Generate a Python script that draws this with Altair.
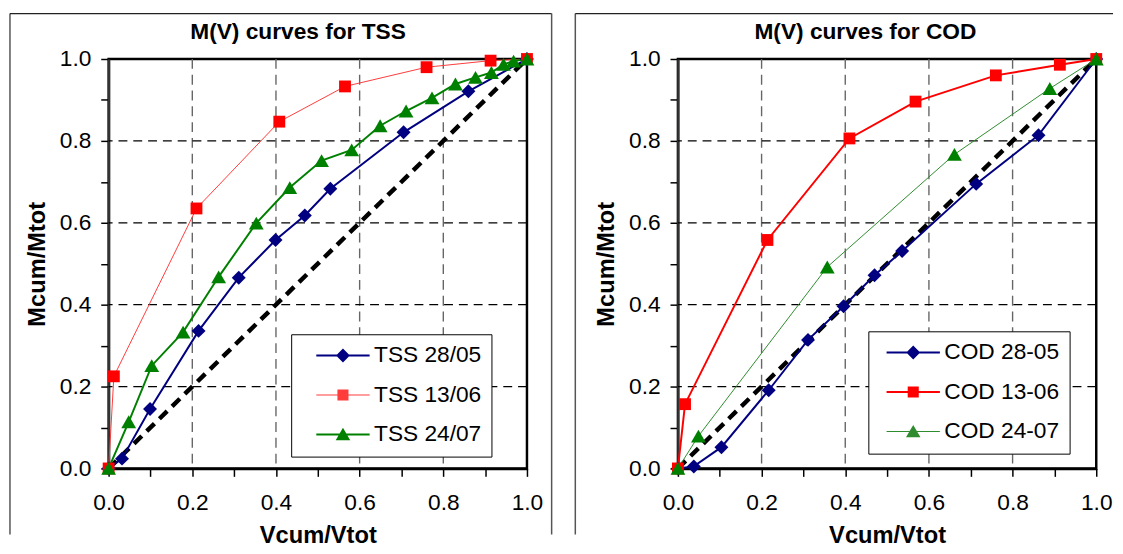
import altair as alt
import pandas as pd

# ---------------- data ----------------
tick_values = [0.0, 0.1, 0.2, 0.3, 0.4, 0.5, 0.6, 0.7, 0.8, 0.9, 1.0]
grid_values = [0.2, 0.4, 0.6, 0.8]
diag_v = [0.0, 1.0]
diag_m = [0.0, 1.0]

tss_names = ["TSS 28/05", "TSS 13/06", "TSS 24/07"]
tss_v = [
    [0, 0.032, 0.099, 0.215, 0.311, 0.399, 0.469, 0.53, 0.705, 0.86, 1.0],
    [0, 0.0125, 0.21, 0.408, 0.565, 0.76, 0.913, 1.0],
    [0, 0.048, 0.103, 0.178, 0.263, 0.353, 0.433, 0.509, 0.581, 0.649, 0.711,
     0.773, 0.829, 0.877, 0.915, 0.944, 0.968, 1.0],
]
tss_m = [
    [0, 0.024, 0.145, 0.336, 0.466, 0.558, 0.618, 0.683, 0.821, 0.921, 1.0],
    [0, 0.225, 0.635, 0.847, 0.933, 0.98, 0.996, 1.0],
    [0, 0.114, 0.251, 0.333, 0.468, 0.599, 0.686, 0.752, 0.778, 0.837, 0.873,
     0.905, 0.939, 0.955, 0.967, 0.987, 0.995, 1.0],
]

cod_names = ["COD 28-05", "COD 13-06", "COD 24-07"]
cod_v = [
    [0, 0.038, 0.104, 0.217, 0.311, 0.396, 0.47, 0.536, 0.713, 0.862, 1.0],
    [0, 0.017, 0.214, 0.41, 0.568, 0.76, 0.913, 1.0],
    [0, 0.049, 0.357, 0.661, 0.889, 1.0],
]
cod_m = [
    [0, 0.005, 0.052, 0.191, 0.314, 0.396, 0.472, 0.531, 0.695, 0.814, 1.0],
    [0, 0.157, 0.558, 0.806, 0.896, 0.96, 0.986, 1.0],
    [0, 0.079, 0.492, 0.767, 0.928, 1.0],
]

# ---------------- styles ----------------
COLORS = ["#000080", "#ff0000", "#008000"]
SHAPES = ["diamond", "square", "triangle-up"]
SIZES = [200, 144, 225]
FONT = "Liberation Sans"
W, H = 424, 415

label_expr = "round(datum.value*10) % 2 == 0 ? format(datum.value, '.1f') : ''"


def legend_paths(line_halfwidths):
    # custom legend symbols: a line segment with the marker on it
    marks = [
        "M0,-1L1,0L0,1L-1,0Z",
        "M-0.8,-0.8H0.8V0.8H-0.8Z",
        "M0,-0.95L1.05,0.85L-1.05,0.85Z",
    ]
    return [f"M-3.86,-{hw}H3.86V{hw}H-3.86Z{mk}"
            for hw, mk in zip(line_halfwidths, marks)]


def panel(title, names, vs, ms, widths, line_colors, leg_x, leg_y, sym_off,
          lab_off, frame_left, frame_right, title_x, right_side=True):
    xs = alt.Scale(domain=[0, 1], nice=False, zero=False)
    ys = alt.Scale(domain=[0, 1], nice=False, zero=False)
    x_axis = alt.Axis(values=tick_values, labelExpr=label_expr, grid=False,
                      tickSize=8, tickWidth=1.5, tickColor="black",
                      domainColor="black", domainWidth=2.5,
                      labelFontSize=23, labelColor="black", labelPadding=16,
                      labelFlush=False, labelOverlap=False,
                      title="Vcum/Vtot", titleFontSize=24, titleFontWeight="bold",
                      titleColor="black", titlePadding=9)
    y_axis = alt.Axis(values=tick_values, labelExpr=label_expr, grid=False,
                      tickSize=8, tickWidth=1.5, tickColor="black",
                      domainColor="#333333", domainWidth=2.5,
                      labelFontSize=23, labelColor="black", labelPadding=10,
                      labelFlush=False, labelOverlap=False,
                      title="Mcum/Mtot", titleFontSize=24, titleFontWeight="bold",
                      titleColor="black", titlePadding=10)

    one = pd.DataFrame({"k": [0]})
    frame_col = "#555555"
    frame = [
        alt.Chart(one).mark_rule(color=frame_col, strokeWidth=1.5).encode(
            x=alt.value(frame_left), y=alt.value(-46), y2=alt.value(482)),
        alt.Chart(one).mark_rule(color="#222222", strokeWidth=1.5).encode(
            x=alt.value(frame_left), x2=alt.value(frame_right), y=alt.value(-46)),
    ]
    if right_side:
        frame.append(alt.Chart(one).mark_rule(color=frame_col, strokeWidth=1.5).encode(
            x=alt.value(frame_right), y=alt.value(-46), y2=alt.value(482)))

    title_layer = alt.Chart(one).mark_text(
        text=title, fontSize=23, fontWeight="bold", font=FONT, color="black",
        align="center", baseline="middle").encode(
        x=alt.value(title_x), y=alt.value(-27))

    gdf = pd.DataFrame({"g": grid_values})
    vgrid = alt.Chart(gdf).mark_rule(color="#666666", strokeWidth=1.4,
                                     strokeDash=[10, 6]).encode(
        x=alt.X("g:Q", scale=xs, axis=x_axis))
    hgrid = alt.Chart(gdf).mark_rule(color="black", strokeWidth=1.3,
                                     strokeDash=[9, 6]).encode(
        y=alt.Y("g:Q", scale=ys, axis=y_axis))

    ddf = pd.DataFrame({"v": diag_v, "m": diag_m})
    diag = alt.Chart(ddf).mark_line(color="black", strokeWidth=4.5,
                                    strokeDash=[11, 7], clip=False).encode(
        x=alt.X("v:Q", scale=xs, axis=x_axis),
        y=alt.Y("m:Q", scale=ys, axis=y_axis))

    lines, points = [], []
    for i, name in enumerate(names):
        df = pd.DataFrame({"v": vs[i], "m": ms[i]})
        lines.append(alt.Chart(df).mark_line(color=line_colors[i], strokeWidth=widths[i],
                                             clip=False).encode(
            x=alt.X("v:Q", scale=xs, axis=x_axis),
            y=alt.Y("m:Q", scale=ys, axis=y_axis)))
        points.append(alt.Chart(df).mark_point(shape=SHAPES[i], size=SIZES[i], filled=True,
                                               opacity=1, color=COLORS[i],
                                               clip=False).encode(
            x=alt.X("v:Q", scale=xs, axis=x_axis),
            y=alt.Y("m:Q", scale=ys, axis=y_axis)))

    half = [0.07 if w < 1.5 else 0.14 for w in widths]
    leg_df = pd.DataFrame({"series": names, "v": [0.5] * 3, "m": [0.5] * 3})
    leg = alt.Legend(orient="none", legendX=leg_x, legendY=leg_y, title=None,
                     direction="vertical", labelFontSize=23, labelFont=FONT,
                     labelColor="black", symbolSize=196, symbolStrokeWidth=0,
                     symbolOffset=sym_off, labelOffset=lab_off,
                     rowPadding=16, padding=10,
                     strokeColor="black", fillColor="white", labelLimit=400,
                     symbolOpacity=1)
    legend_layer = alt.Chart(leg_df).mark_point(filled=True, size=196).encode(
        x=alt.X("v:Q", scale=xs, axis=x_axis),
        y=alt.Y("m:Q", scale=ys, axis=y_axis),
        color=alt.Color("series:N", scale=alt.Scale(domain=names, range=line_colors),
                        legend=leg),
        shape=alt.Shape("series:N",
                        scale=alt.Scale(domain=names, range=legend_paths(half)),
                        legend=leg),
    ).transform_filter("datum.v > 5")

    return alt.layer(
        *frame, title_layer, vgrid, hgrid, diag, *lines, *points, legend_layer
    ).properties(width=W, height=H)


left = panel("M(V) curves for TSS", tss_names, tss_v, tss_m,
             widths=[2, 1, 2], line_colors=["#000080", "#ff3b3b", "#008000"],
             leg_x=185, leg_y=279, sym_off=31, lab_off=20,
             frame_left=-100, frame_right=449, title_x=192)
right = panel("M(V) curves for COD", cod_names, cod_v, cod_m,
              widths=[2, 2, 1], line_colors=["#000080", "#ff0000", "#2e8b2e"],
              leg_x=193, leg_y=276, sym_off=24, lab_off=20,
              frame_left=-104, frame_right=441, title_x=190, right_side=False)

chart = alt.hconcat(left, right, spacing=20).resolve_scale(
    color="independent", shape="independent"
).resolve_legend(
    color="independent", shape="independent"
).properties(padding=0).configure(
    font=FONT
).configure_view(stroke="black", strokeWidth=2.5)

chart.save("out.html", embed_options={"renderer": "svg", "actions": False})
